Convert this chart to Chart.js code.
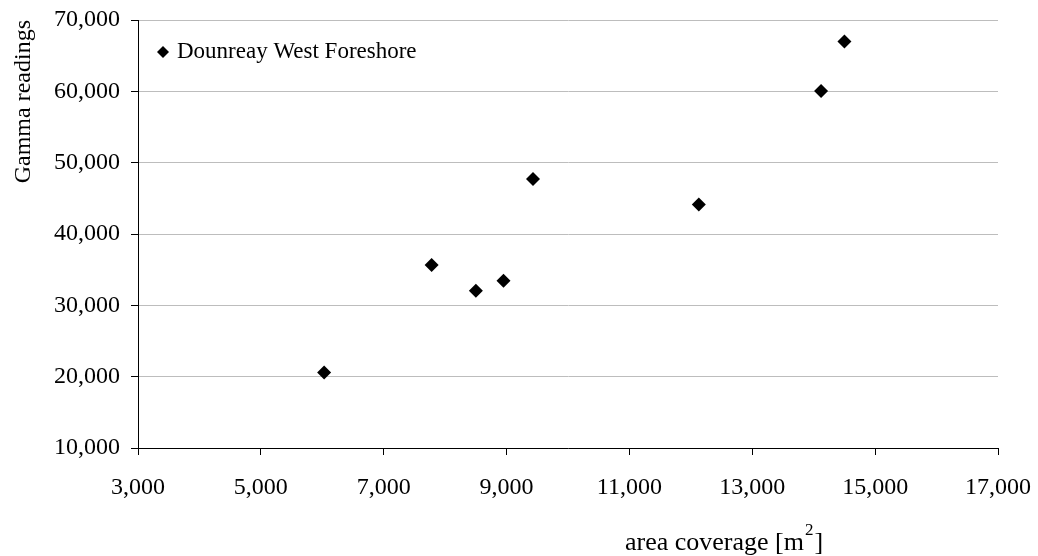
<!DOCTYPE html>
<html lang="en">
<head>
  <meta charset="UTF-8">
  <title>Gamma readings vs area coverage</title>
  <script src="https://cdn.jsdelivr.net/npm/chart.js"></script>
  <style>
    html, body { margin: 0; padding: 0; background: #fff; }
    .grafico { width: 1038px; height: 556px; }
  </style>
</head>
<body>
  <div class="grafico">
    <canvas id="graficoGamma"></canvas>
  </div>

<script>
  // dados
  const serieNome = 'Dounreay West Foreshore';
  const areaCobertura = [6030, 7780, 8500, 8950, 9430, 12130, 14120, 14500];
  const leiturasGamma = [20600, 35650, 32050, 33450, 47700, 44150, 60050, 67000];
  const eixoX = { min: 3000, max: 17000, passo: 2000 };
  const eixoY = { min: 10000, max: 70000, passo: 10000 };

  const fonte = '"Liberation Serif", "Times New Roman", serif';

  let pontos = [];
  for (let i = 0; i < areaCobertura.length; i++) {
    pontos.push({ x: areaCobertura[i], y: leiturasGamma[i] });
  }

  // legenda dentro da area e titulo do eixo x com o expoente
  const extras = {
    id: 'extras',
    afterDraw(chart) {
      const ctx = chart.ctx;
      const area = chart.chartArea;
      ctx.save();

      // legenda
      const lx = area.left + 25, ly = area.top + 32;
      ctx.fillStyle = '#000';
      ctx.beginPath();
      ctx.moveTo(lx, ly - 6);
      ctx.lineTo(lx + 6, ly);
      ctx.lineTo(lx, ly + 6);
      ctx.lineTo(lx - 6, ly);
      ctx.closePath();
      ctx.fill();
      ctx.font = '23px ' + fonte;
      ctx.textBaseline = 'middle';
      ctx.textAlign = 'left';
      ctx.fillText(chart.data.datasets[0].label, lx + 14, ly);

      // titulo eixo x
      ctx.font = '26px ' + fonte;
      ctx.textBaseline = 'alphabetic';
      const base = 550;
      let x = 625;
      const t1 = 'area coverage [m';
      ctx.fillText(t1, x, base);
      x += ctx.measureText(t1).width;
      ctx.font = '17px ' + fonte;
      ctx.fillText('2', x + 1, base - 15);
      x += ctx.measureText('2').width + 2;
      ctx.font = '26px ' + fonte;
      ctx.fillText(']', x, base);

      ctx.restore();
    }
  };

  const config = {
    type: 'scatter',
    data: {
      datasets: [{
        label: serieNome,
        data: pontos,
        pointStyle: 'rectRot',
        pointRadius: 7,
        pointHoverRadius: 7,
        backgroundColor: '#000',
        borderColor: '#000',
        borderWidth: 0
      }]
    },
    options: {
      responsive: true,
      maintainAspectRatio: false,
      animation: false,
      layout: { padding: { top: 20, right: 40, left: 0, bottom: 0 } },
      plugins: {
        legend: { display: false },
        tooltip: { enabled: false }
      },
      scales: {
        x: {
          type: 'linear',
          min: eixoX.min,
          max: eixoX.max,
          afterFit(scale) {
            scale.height = 108;
            scale.paddingLeft = 0;
            scale.paddingRight = 0;
          },
          ticks: {
            stepSize: eixoX.passo,
            color: '#000',
            font: { family: fonte, size: 24 },
            padding: 18,
            maxRotation: 0,
            callback: v => v.toLocaleString('en-US')
          },
          grid: { drawOnChartArea: false, tickColor: '#000', tickLength: 7 },
          border: { color: '#000', width: 1 }
        },
        y: {
          min: eixoY.min,
          max: eixoY.max,
          afterFit(scale) {
            scale.width = 138;
            scale.paddingTop = 0;
            scale.paddingBottom = 0;
          },
          ticks: {
            stepSize: eixoY.passo,
            color: '#000',
            font: { family: fonte, size: 24 },
            padding: 11,
            callback: v => v.toLocaleString('en-US')
          },
          grid: { color: '#bdbdbd', tickColor: '#000', tickLength: 7 },
          border: { color: '#000', width: 1 },
          title: {
            display: true,
            text: 'Gamma readings',
            align: 'end',
            color: '#000',
            font: { family: fonte, size: 24 },
            padding: { top: 9, bottom: 4 }
          }
        }
      }
    },
    plugins: [extras]
  };

  new Chart(document.getElementById('graficoGamma'), config);
</script>
</body>
</html>
